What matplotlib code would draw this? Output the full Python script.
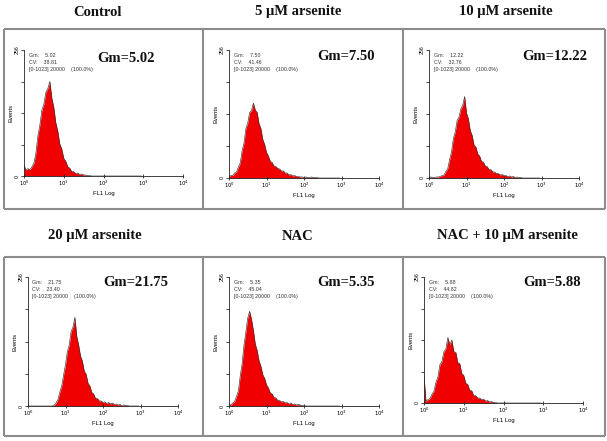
import numpy as np
import matplotlib
matplotlib.use("Agg")
import matplotlib.pyplot as plt

# ---------------- data ----------------
titles = ["Control", "5 \u03bcM arsenite", "10 \u03bcM arsenite",
          "20 \u03bcM arsenite", "NAC", "NAC + 10 \u03bcM arsenite"]
gm_values = [5.02, 7.50, 12.22, 21.75, 5.35, 5.88]
cv_values = [38.81, 41.46, 32.76, 23.40, 45.04, 44.82]
bin_width_decades = 0.05          # histogram channel width in log10 units
n_bins = 60
x_tick_labels = ["$10^0$", "$10^1$", "$10^2$", "$10^3$", "$10^4$"]

counts_control = [22, 12, 15, 13, 19, 26, 47, 82, 104, 134, 146, 170, 178, 192, 158, 139,
                  108, 91, 65, 55, 36, 30, 19, 16, 9, 9, 5, 6, 3, 4, 2, 2, 1, 1, 0]
counts_as5 = [3, 5, 5, 10, 12, 22, 30, 55, 70, 99, 110, 131, 135, 150, 136, 131, 109, 99,
              77, 67, 51, 44, 33, 31, 24, 23, 19, 18, 14, 14, 10, 10, 6, 7, 4, 5, 3, 3, 2,
              2, 1, 2, 1, 1, 2, 1, 1, 1, 0]
counts_as10 = [1, 2, 1, 1, 2, 2, 3, 5, 6, 13, 19, 37, 52, 79, 92, 115, 122, 138, 146, 163,
               130, 118, 95, 85, 66, 62, 48, 44, 33, 32, 24, 23, 17, 17, 12, 12, 9, 9, 6, 7,
               5, 5, 3, 4, 2, 3, 1, 2, 1, 1, 0]
counts_as20 = [0, 0, 0, 0, 0, 0, 0, 0, 0, 0, 0, 0, 0, 0,
               2, 6, 13, 28, 40, 62, 82, 108, 121, 148, 157, 176, 138, 121, 99, 89, 69, 63,
               45, 40, 27, 24, 15, 15, 10, 10, 7, 8, 5, 7, 4, 6, 3, 4, 2, 3, 1, 2, 1, 1, 0]
counts_nac = [3, 2, 6, 9, 19, 30, 60, 84, 121, 147, 175, 188, 172, 150, 123, 110, 90, 79,
              62, 55, 42, 36, 26, 24, 17, 16, 11, 11, 8, 9, 6, 7, 4, 6, 3, 4, 2, 3, 2, 1, 1, 0]
counts_nac_as10 = [54, 3, 7, 9, 18, 24, 42, 53, 78, 84, 104, 110, 133, 118, 128, 104, 103,
                   82, 80, 60, 56, 40, 38, 26, 25, 15, 15, 10, 10, 7, 8, 4, 5, 2, 3, 1, 1, 0]

all_counts = [counts_control, counts_as5, counts_as10, counts_as20, counts_nac, counts_nac_as10]

# ---------------- layout (figure pixels) ----------------
W, H = 607, 441
fig = plt.figure(figsize=(W / 100, H / 100), dpi=100)

ax_boxes = [(24, 50, 183, 176), (229, 50, 379, 178), (429, 50, 579, 178),
            (28, 277, 178, 406), (229, 277, 379, 406), (424, 277, 583, 403)]
title_pos = [(97, 12), (298, 12), (506, 12), (95, 236), (298, 236), (507, 236)]
gm_pos = [(126, 58), (346, 57), (555, 57), (136, 283), (346, 283), (552, 283)]

serif = ["Liberation Serif", "DejaVu Serif"]
sans = ["Liberation Sans", "DejaVu Sans"]

ov = fig.add_axes([0, 0, 1, 1])
ov.set_xlim(0, W)
ov.set_ylim(H, 0)
ov.axis("off")
frame_col = "#8c8c8c"
lw = 1.5
for (ytop, ybot) in [(29, 209), (257, 436)]:
    ov.plot([4, 605], [ytop, ytop], color=frame_col, lw=lw, solid_capstyle="butt")
    ov.plot([4, 605], [ybot, ybot], color=frame_col, lw=lw, solid_capstyle="butt")
    for xv in [4, 203, 403, 605]:
        ov.plot([xv, xv], [ytop, ybot], color=frame_col, lw=lw, solid_capstyle="butt")

for t, (tx, ty) in zip(titles, title_pos):
    ov.text(tx, ty, t, ha="center", va="center", fontsize=10.5, fontweight="bold",
            family=serif, color="#111111")

positions = np.arange(n_bins) * bin_width_decades

for i, (x0, y0, x1, y1) in enumerate(ax_boxes):
    ax = fig.add_axes([x0 / W, 1 - y1 / H, (x1 - x0) / W, (y1 - y0) / H])
    c = np.array(all_counts[i] + [0] * (n_bins - len(all_counts[i])), dtype=float)
    ax.fill_between(positions, 0, c, color="#f00000", lw=0)
    ax.plot(positions, c, color="#333333", lw=0.45)
    ax.set_xlim(0, 4)
    ax.set_ylim(0, 256)
    ax.patch.set_alpha(0)
    for s in ["top", "right"]:
        ax.spines[s].set_visible(False)
    for s in ["left", "bottom"]:
        ax.spines[s].set_linewidth(0.6)
        ax.spines[s].set_color("#222222")
    ax.set_xticks([0, 1, 2, 3, 4])
    ax.set_xticklabels(x_tick_labels, fontsize=3.8, family=sans)
    ax.set_yticks([0, 64, 128, 192, 256])
    ax.set_yticklabels(["0", "", "", "", "256"], fontsize=3.8, family=sans, rotation=90,
                       va="center")
    ax.tick_params(axis="x", length=2.5, width=0.5, pad=1, direction="inout")
    ax.tick_params(axis="y", length=2, width=0.5, pad=1)
    ax.set_xlabel("FL1 Log", fontsize=4.2, family=sans, labelpad=1.5)
    ax.set_ylabel("Events", fontsize=4.2, family=sans, labelpad=1)
    txt = ("Gm:    %.2f\nCV:    %.2f\n[0-1023] 20000    (100.0%%)" % (gm_values[i], cv_values[i]))
    ax.text(0.03, 0.975, txt, transform=ax.transAxes, ha="left", va="top",
            fontsize=3.8, family=sans, color="#333333", linespacing=1.45)
    gx, gy = gm_pos[i]
    ov.text(gx, gy, "Gm=%.2f" % gm_values[i], ha="center", va="center", fontsize=10.5,
            fontweight="bold", family=serif, color="#111111")

fig.savefig("out.png", dpi=100)
